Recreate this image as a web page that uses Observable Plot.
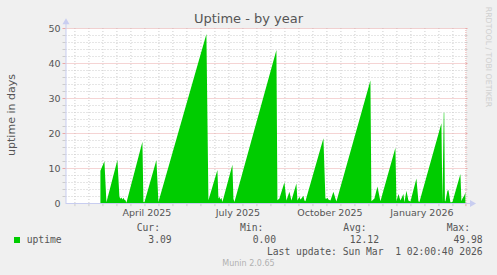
<!DOCTYPE html>
<html><head><meta charset="utf-8">
<script src="https://cdn.jsdelivr.net/npm/d3@7"></script>
<script src="https://cdn.jsdelivr.net/npm/@observablehq/plot@0.6"></script>
<style>
body{margin:0;background:#f0f0f0;}
#wrap{position:relative;width:497px;height:275px;background:#f0f0f0;overflow:hidden;font-family:"DejaVu Sans",sans-serif;}
#chart svg{position:absolute;left:0;top:0;background:transparent;}
.t{position:absolute;white-space:pre;line-height:1;}
.mono{font-family:"DejaVu Sans Mono",monospace;font-size:9.7px;color:#555;}
</style></head><body><div id="wrap"><div id="chart"></div></div>
<script>
// ---- data ----
const title = "Uptime - by year";
const yLabel = "uptime in days";
const seriesName = "uptime";
const dates = [
 "2025-03-01","2025-03-05","2025-03-07","2025-03-18","2025-03-20","2025-03-21","2025-03-22","2025-03-23",
 "2025-03-24","2025-03-25","2025-03-26","2025-03-27","2025-04-12","2025-04-13","2025-04-14","2025-04-26",
 "2025-04-28","2025-06-15","2025-06-17","2025-06-26","2025-06-27","2025-06-28","2025-06-29","2025-06-30",
 "2025-07-01","2025-07-11","2025-07-12","2025-07-13","2025-08-24","2025-08-25","2025-08-27","2025-09-01",
 "2025-09-03","2025-09-06","2025-09-08","2025-09-13","2025-09-14","2025-09-16","2025-09-17","2025-09-18",
 "2025-09-20","2025-09-21","2025-09-22","2025-10-10","2025-10-12","2025-10-13","2025-10-14","2025-10-15",
 "2025-10-17","2025-10-20","2025-10-22","2025-10-23","2025-11-26","2025-11-27","2025-11-30","2025-12-03",
 "2025-12-06","2025-12-21","2025-12-22","2025-12-24","2025-12-26","2025-12-29","2025-12-30","2026-01-01",
 "2026-01-03","2026-01-05","2026-01-11","2026-01-13","2026-01-14","2026-02-05","2026-02-06","2026-02-07T08:00",
 "2026-02-07T20:00","2026-02-08T12:00","2026-02-09","2026-02-11","2026-02-12","2026-02-14","2026-02-15","2026-02-16",
 "2026-02-24","2026-02-25","2026-02-26","2026-02-28","2026-03-01"
];
const uptime = [
 9.2,11.9,0.2,12.3,1.8,1.2,1.6,1.0,
 1.5,0.9,0.8,0.1,17.5,0.3,0.2,12.3,
 0.3,48.3,0.8,9.4,1.3,1.8,1.0,1.5,
 0.3,10.9,1.2,0.3,43.7,0.8,1.3,5.9,
 0.7,3.2,0.7,5.6,0.7,1.8,1.0,1.3,
 2.1,0.7,0.5,18.5,1.3,1.2,1.5,1.0,
 0.7,3.2,1.3,0.4,35.0,0.5,1.3,4.7,
 0.5,15.8,0.5,2.6,0.7,2.6,0.2,3.5,
 0.7,0.4,7.0,0.5,0.3,22.8,null,25.8,
 25.8,0.5,0.5,3.5,3.7,0.2,0.2,0.3,
 8.3,0.5,1.3,2.2,3.09
];
const xStart = "2025-01-25T02:00:40";
const xEnd = "2026-03-01T02:00:40";
const xTickDates = ["2025-04-16","2025-07-16","2025-10-16","2026-01-16"];
const xTickLabels = ["April 2025","July 2025","October 2025","January 2026"];
const yTicks = [0,10,20,30,40,50];
const legendLabels = ["Cur:","Min:","Avg:","Max:"];
const legendValues = ["3.09","0.00","12.12","49.98"];
const lastUpdate = "Last update: Sun Mar  1 02:00:40 2026";
const footer = "Munin 2.0.65";
const watermark = "RRDTOOL / TOBI OETIKER";

// ---- build ----
const t0 = new Date(xStart), t1 = new Date(xEnd);
const data = dates.map((d,i)=>({date:new Date(d), v:uptime[i]}));
const months = d3.utcMonths(t0, t1 + 1).concat([new Date("2026-03-01")]);
const biweeks = d3.range(0, 29).map(i => d3.utcDay.offset(new Date("2025-02-03"), 14*i)).filter(d => d <= t1);
const yMinor = d3.range(0, 51, 2).filter(v => v % 10 !== 0);
const yMajor = yTicks.filter(v => v > 0);
const green = "#00cc00", axisC = "#c8cdf0", majC = "#eaa8a8", minC = "#cccccc";
const tickX = d3.utcDay.offset(t0, -3);
const tickXr = d3.utcDay.offset(t1, 2);

const plot = Plot.plot({
  width: 497, height: 220,
  marginLeft: 65.5, marginRight: 31.5, marginTop: 28, marginBottom: 17,
  x: {type: "utc", domain: [t0, t1], axis: null},
  y: {domain: [0, 50], axis: null},
  style: {background: "transparent", overflow: "visible"},
  marks: [
    Plot.frame({fill: "white", stroke: null}),
    Plot.ruleY(yMinor, {stroke: minC, strokeDasharray: "1,2"}),
    Plot.ruleX(biweeks, {stroke: minC, strokeDasharray: "1,2"}),
    Plot.ruleY(yMajor, {stroke: majC, strokeDasharray: "1,1"}),
    Plot.ruleX(months, {stroke: majC, strokeDasharray: "1,1"}),
    Plot.areaY(data, {x: "date", y: "v", fill: green, curve: "linear"}),
    // ticks
    Plot.ruleY(yMinor, {x1: tickX, x2: t0, stroke: minC}),
    Plot.ruleY(yMajor, {x1: tickX, x2: t0, stroke: majC}),
    Plot.ruleY(yMinor, {x1: t1, x2: tickXr, stroke: minC}),
    Plot.ruleY(yMajor, {x1: t1, x2: tickXr, stroke: majC}),
    Plot.ruleX(biweeks, {y1: 0, y2: -0.9, stroke: minC}),
    Plot.ruleX(months, {y1: 0, y2: -0.9, stroke: majC}),
    // axes lines + arrows
    Plot.ruleY([0], {x1: t0, x2: d3.utcDay.offset(t1, 6), stroke: axisC}),
    Plot.ruleX([t0], {y1: 0, y2: 51.5, stroke: axisC}),
    Plot.dot([0], {x: t0, y: 51.8, symbol: "triangle", r: 2.6, fill: axisC, stroke: null}),
    Plot.dot([0], {x: d3.utcDay.offset(t1, 6), y: 0, symbol: "triangle", r: 2.6, fill: axisC, stroke: null, rotate: 90}),
    // labels
    Plot.text(yTicks, {x: t0, y: d => d, text: d => String(d), textAnchor: "end", dx: -5.5, fontSize: 9.5, fill: "#555", fontFamily: "DejaVu Sans"}),
    Plot.text(xTickDates, {x: d => new Date(d), text: (d,i) => xTickLabels[i], frameAnchor: "bottom", dy: 9, lineAnchor: "middle", fontSize: 9.5, fill: "#555", fontFamily: "DejaVu Sans"})
  ]
});
document.getElementById("chart").appendChild(plot);

const wrap = document.getElementById("wrap");
function add(text, style, cls) {
  const s = document.createElement("div");
  s.className = "t" + (cls ? " " + cls : "");
  s.textContent = text;
  Object.assign(s.style, style);
  wrap.appendChild(s);
  return s;
}
add(title, {left: "0px", width: "497px", textAlign: "center", top: "11.5px", fontSize: "13px", color: "#555"});
add(yLabel, {left: "11px", top: "115px", fontSize: "11px", color: "#555", transform: "translate(-50%,-50%) rotate(-90deg)"});
add(watermark, {left: "488px", top: "57px", fontSize: "7.8px", color: "#cfcfcf", transform: "translate(-50%,-50%) rotate(90deg)"});
// legend
add("", {left: "14px", top: "237px", width: "6px", height: "6px", background: green});
add(seriesName, {left: "26.7px", top: "235px"}, "mono");
const labelLeft = [136.7, 240, 343.3, 446.7];
const valueRight = [171.7, 276, 379, 482.7];
legendLabels.forEach((l,i) => add(l, {left: labelLeft[i] + "px", top: "222.5px"}, "mono"));
legendValues.forEach((v,i) => add(v, {right: (497 - valueRight[i]) + "px", top: "235px"}, "mono"));
add(lastUpdate, {right: (497 - 482.7) + "px", top: "246.7px"}, "mono");
add(footer, {left: "0px", width: "497px", textAlign: "center", top: "260px", fontSize: "8px", color: "#b0b0b0"});
</script></body></html>
